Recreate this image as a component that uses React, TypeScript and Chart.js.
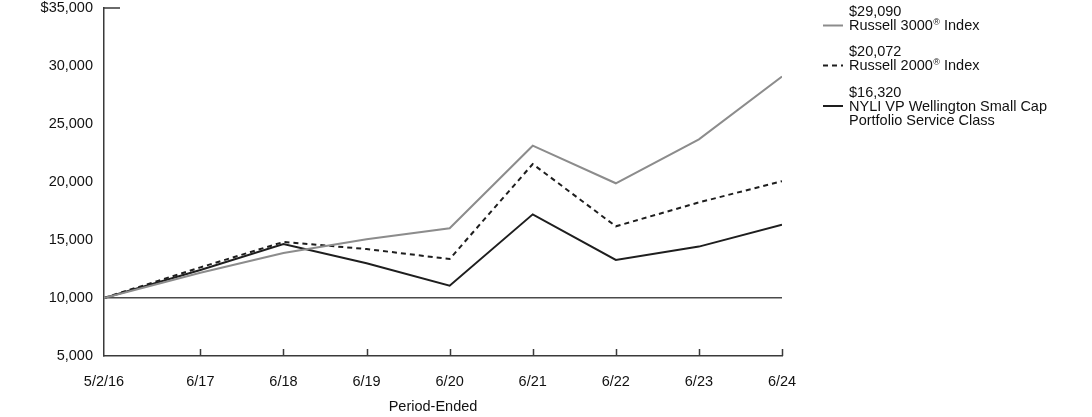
import React, { useEffect, useRef } from 'react';
import { Chart, registerables } from 'chart.js';
Chart.register(...registerables);

// Period-end positions as decimal years (5/2/16, then 6/30 each year)
const xValues = [2016.336, 2017.496, 2018.496, 2019.496, 2020.496, 2021.496, 2022.496, 2023.496, 2024.496];
const xLabels = ['5/2/16', '6/17', '6/18', '6/19', '6/20', '6/21', '6/22', '6/23', '6/24'];
const russell3000 = [10000, 12180, 13880, 15060, 16010, 23130, 19890, 23680, 29090];
const russell2000 = [10000, 12640, 14830, 14220, 13360, 21550, 16180, 18240, 20072];
const nyli = [10000, 12410, 14650, 12990, 11060, 17210, 13280, 14430, 16320];
const yTickValues = [5000, 10000, 15000, 20000, 25000, 30000, 35000];
const xTitle = 'Period-Ended';

const FONT = '"Liberation Sans", Arial, Helvetica, sans-serif';
const FS = 14.5;
const GRAY = '#8c8c8c';
const DARK = '#1e1e1e';
const AXIS = '#3a3a3a';

type LegendItem = { value: string; name: string[]; color: string; dash: number[]; y: number };
const legendItems: LegendItem[] = [
  { value: '$29,090', name: ['Russell 3000|®| Index'], color: GRAY, dash: [], y: 12 },
  { value: '$20,072', name: ['Russell 2000|®| Index'], color: DARK, dash: [5, 4], y: 52 },
  { value: '$16,320', name: ['NYLI VP Wellington Small Cap', 'Portfolio Service Class'], color: DARK, dash: [], y: 92.5 },
];

const extrasPlugin = {
  id: 'extras',
  afterDraw(chart: any) {
    const { ctx, chartArea, scales } = chart;
    const x = scales.x;
    const y = scales.y;
    ctx.save();
    ctx.strokeStyle = AXIS;
    ctx.lineWidth = 1.5;
    ctx.beginPath();
    const topY = y.getPixelForValue(35000);
    ctx.moveTo(chartArea.left, topY);
    ctx.lineTo(chartArea.left + 16, topY);
    xValues.forEach((v, i) => {
      if (i === 0) return;
      const px = Math.round(x.getPixelForValue(v)) + 0.5;
      ctx.moveTo(px, chartArea.bottom);
      ctx.lineTo(px, chartArea.bottom - 7);
    });
    ctx.stroke();

    // axis title
    ctx.fillStyle = '#111';
    ctx.font = `${FS}px ${FONT}`;
    ctx.textAlign = 'center';
    ctx.textBaseline = 'middle';
    ctx.fillText(xTitle, chartArea.left + 329, 407);

    const sampleX0 = 823;
    const sampleX1 = 843;
    const textX = 849;
    ctx.textBaseline = 'middle';
    ctx.textAlign = 'left';
    legendItems.forEach((it) => {
      ctx.fillStyle = '#111';
      ctx.font = `${FS}px ${FONT}`;
      ctx.fillText(it.value, textX, it.y);
      it.name.forEach((line, li) => {
        const ly = it.y + 14 * (li + 1);
        const parts = line.split('|');
        let cx = textX;
        parts.forEach((p, pi) => {
          if (parts.length === 3 && pi === 1) {
            ctx.font = `9px ${FONT}`;
            ctx.fillText(p, cx + 0.5, ly - 3);
            cx += ctx.measureText(p).width + 0.5;
          } else {
            ctx.font = `${FS}px ${FONT}`;
            ctx.fillText(p, cx, ly);
            cx += ctx.measureText(p).width;
          }
        });
      });
      const sy = it.y + 13.5;
      ctx.strokeStyle = it.color;
      ctx.lineWidth = 2;
      ctx.setLineDash(it.dash);
      ctx.beginPath();
      ctx.moveTo(sampleX0, sy);
      ctx.lineTo(sampleX1, sy);
      ctx.stroke();
      ctx.setLineDash([]);
    });
    ctx.restore();
  },
};

export default function App() {
  const ref = useRef<HTMLCanvasElement | null>(null);
  useEffect(() => {
    document.body.style.margin = '0';
    const canvas = ref.current;
    if (!canvas) return;
    const mk = (data: number[]) => data.map((v, i) => ({ x: xValues[i], y: v }));
    const chart = new Chart(canvas, {
      type: 'line',
      data: {
        datasets: [
          { label: 'Russell 3000® Index', data: mk(russell3000), borderColor: GRAY, borderWidth: 2, pointRadius: 0, tension: 0 },
          { label: 'Russell 2000® Index', data: mk(russell2000), borderColor: DARK, borderWidth: 2, borderDash: [5, 4], pointRadius: 0, tension: 0 },
          { label: 'NYLI VP Wellington Small Cap Portfolio Service Class', data: mk(nyli), borderColor: DARK, borderWidth: 2, pointRadius: 0, tension: 0 },
        ],
      },
      options: {
        responsive: false,
        animation: false,
        devicePixelRatio: 1,
        layout: { padding: { top: 8, right: 310, left: 0, bottom: 0 } },
        plugins: { legend: { display: false }, tooltip: { enabled: false } },
        scales: {
          x: {
            type: 'linear',
            min: xValues[0],
            max: xValues[xValues.length - 1],
            afterBuildTicks: (s: any) => {
              s.ticks = xValues.map((v) => ({ value: v }));
            },
            afterFit: (s: any) => {
              s.height = 61;
              s.paddingLeft = 0;
              s.paddingRight = 0;
            },
            grid: { display: true, drawOnChartArea: false, drawTicks: false },
            border: { display: true, color: AXIS, width: 1.5 },
            ticks: {
              autoSkip: false,
              maxRotation: 0,
              padding: 17,
              color: '#111',
              font: { family: FONT, size: FS },
              callback: (_v: any, i: number) => xLabels[i],
            },
            title: { display: false },
          },
          y: {
            min: 5000,
            max: 35000,
            afterBuildTicks: (s: any) => {
              s.ticks = yTickValues.map((v) => ({ value: v }));
            },
            afterFit: (s: any) => {
              s.width = 104;
              s.paddingTop = 0;
              s.paddingBottom = 0;
            },
            grid: {
              display: true,
              drawTicks: false,
              drawOnChartArea: true,
              lineWidth: 1.5,
              color: (c: any) => (c.tick && c.tick.value === 10000 ? '#4a4a4a' : 'rgba(0,0,0,0)'),
            },
            border: { display: true, color: AXIS, width: 1.5 },
            ticks: {
              padding: 11,
              color: '#111',
              font: { family: FONT, size: FS },
              callback: (v: any) => (v === 35000 ? '$' : '') + Number(v).toLocaleString('en-US'),
            },
          },
        },
      },
      plugins: [extrasPlugin],
    } as any);
    return () => chart.destroy();
  }, []);
  return (
    <div style={{ width: 1092, height: 417 }}>
      <canvas ref={ref} width={1092} height={417} style={{ display: 'block' }} />
    </div>
  );
}
